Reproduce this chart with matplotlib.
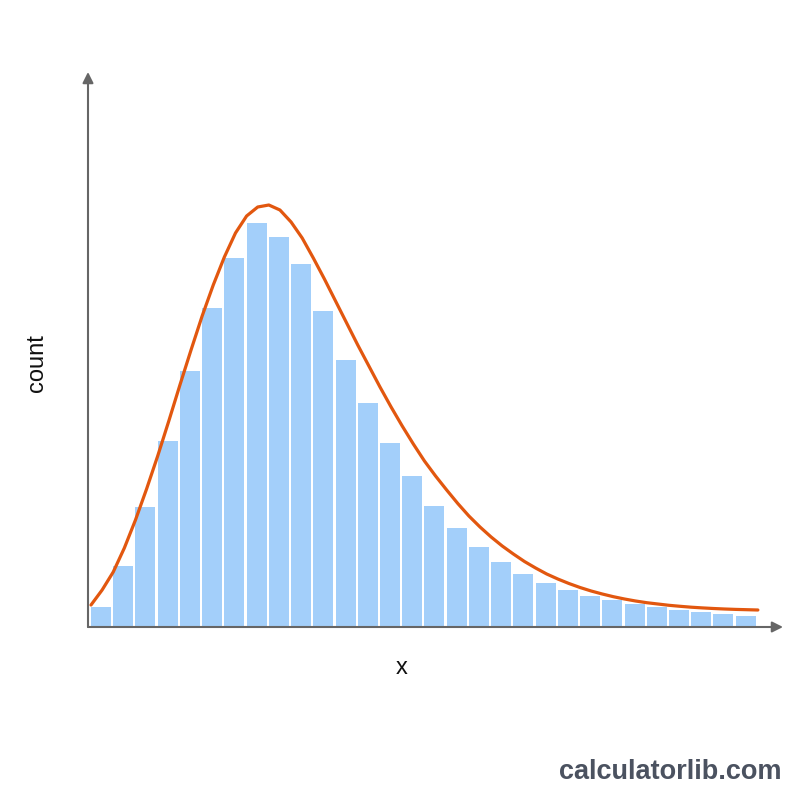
import matplotlib.pyplot as plt
import numpy as np

plt.rcParams['font.family'] = ['Liberation Sans', 'DejaVu Sans']

# histogram bar heights (arbitrary count units)
bar_counts = [20, 61, 120, 186, 256, 319, 369, 404, 390, 363,
              316, 267, 224, 184, 151, 121, 99, 80, 65, 53,
              44, 37, 31, 27, 23, 20, 17, 15, 13, 11]
bin_left = list(range(len(bar_counts)))

# fitted density curve, read every half bin
curve_x = [0, 0.5, 1, 1.5, 2, 2.5, 3, 3.5, 4, 4.5,
           5, 5.5, 6, 6.5, 7, 7.5, 8, 8.5, 9, 9.5,
           10, 10.5, 11, 11.5, 12, 12.5, 13, 13.5, 14, 14.5,
           15, 15.5, 16, 16.5, 17, 17.5, 18, 18.5, 19, 19.5,
           20, 20.5, 21, 21.5, 22, 22.5, 23, 23.5, 24, 24.5,
           25, 25.5, 26, 26.5, 27, 27.5, 28, 28.5, 29, 29.5, 30]
curve_y = [22, 37, 55, 79, 107, 138, 171, 206, 242, 277,
           311, 342, 370, 394, 411, 420, 422, 417, 405, 389,
           369, 348, 326, 304, 282, 261, 240, 220, 201, 183,
           166, 151, 137, 123.5, 111, 100, 90, 81, 73, 65.5,
           59, 53, 48, 43.5, 39.5, 36, 33, 30.3, 28, 26,
           24.3, 23, 21.7, 20.7, 19.8, 19.1, 18.5, 18, 17.6, 17.3, 17]

fig = plt.figure(figsize=(8, 8), dpi=100)
fig.patch.set_facecolor('white')
ax = fig.add_axes([88/800, 1-627/800, 695/800, 555/800])

ax.bar(bin_left, bar_counts, width=0.9, align='edge', color='#a3cffa', edgecolor='none', zorder=2)
ax.plot(curve_x, curve_y, color='#e2570f', lw=2.3, zorder=3, solid_capstyle='round', solid_joinstyle='round')

ax.set_xlim(-3/22.23, 31.13)
ax.set_ylim(0, 555)
ax.set_xticks([])
ax.set_yticks([])
for s in ax.spines.values():
    s.set_visible(False)

# axes drawn as arrows
arr = dict(arrowstyle='-|>', color='#666666', lw=1.5, mutation_scale=16, shrinkA=0, shrinkB=0)
ax.annotate('', xy=(1, 0), xytext=(0, 0), xycoords='axes fraction', arrowprops=arr, annotation_clip=False)
ax.annotate('', xy=(0, 1), xytext=(0, 0), xycoords='axes fraction', arrowprops=arr, annotation_clip=False)

fig.text(402/800, 1-668/800, 'x', fontsize=17, ha='center', va='center', color='#111111')
fig.text(37/800, 1-363/800, 'count', fontsize=17, ha='center', va='center', rotation=90, color='#111111')
fig.text(782/800, 1-772/800, 'calculatorlib.com', fontsize=19.5, fontweight='bold',
         ha='right', va='center', color='#4b5260')

fig.savefig('out.png', dpi=100, facecolor='white')
